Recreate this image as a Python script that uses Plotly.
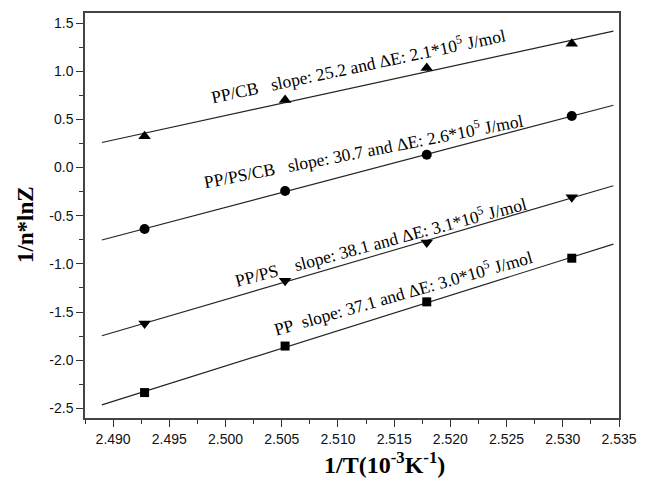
import numpy as np
import plotly.graph_objects as go

# ---- data ----
inv_T = [2.4928, 2.5053, 2.5179, 2.5308]  # 1/T (10^-3 K^-1)

series_names = ["PP/CB", "PP/PS/CB", "PP/PS", "PP"]
y_pp_cb = [0.325, 0.703, 1.035, 1.287]
y_pp_ps_cb = [-0.638, -0.244, 0.133, 0.535]
y_pp_ps = [-1.619, -1.174, -0.777, -0.307]
y_pp = [-2.336, -1.853, -1.394, -0.941]

slopes = ["25.2", "30.7", "38.1", "37.1"]
energies = ["2.1", "2.6", "3.1", "3.0"]

x_ticks = [2.490, 2.495, 2.500, 2.505, 2.510, 2.515, 2.520, 2.525, 2.530, 2.535]
y_ticks = [-2.5, -2.0, -1.5, -1.0, -0.5, 0.0, 0.5, 1.0, 1.5]

# ---- styling ----
symbols = ["triangle-up", "circle", "triangle-down", "square"]
msizes = [11, 10, 11, 9]
fit_range = (2.489, 2.5345)
# label placement (center in data coords, angle)
label_pos = [(2.5118, 1.06, -12.0), (2.5123, 0.18, -11.0),
             (2.5138, -0.76, -15.0), (2.5158, -1.29, -15.9)]
sp = "\u00a0"
label_gap = [sp * 3, sp * 3, sp * 4, sp * 2]

all_y = [y_pp_cb, y_pp_ps_cb, y_pp_ps, y_pp]

fig = go.Figure()
for name, ys, sym, ms in zip(series_names, all_y, symbols, msizes):
    k, b = np.polyfit(inv_T, ys, 1)
    xf = np.array(fit_range)
    fig.add_trace(go.Scatter(x=xf, y=k * xf + b, mode="lines",
                             line=dict(color="#222222", width=1.1),
                             showlegend=False, hoverinfo="skip"))
    fig.add_trace(go.Scatter(x=inv_T, y=ys, mode="markers", name=name,
                             marker=dict(symbol=sym, size=ms, color="black"),
                             showlegend=False))

serif = "Liberation Serif, Times New Roman, serif"
for name, s, e, (lx, ly, ang), gap in zip(series_names, slopes, energies, label_pos, label_gap):
    fig.add_annotation(
        x=lx, y=ly, xref="x", yref="y", showarrow=False,
        text=f"{name}{gap}slope: {s} and \u0394E: {e}*10<sup>5</sup> J/mol",
        textangle=ang,
        font=dict(family=serif, size=17.5, color="black"),
        xanchor="center", yanchor="middle")

# axis titles as annotations
fig.add_annotation(
    x=0.56, y=-0.11, xref="paper", yref="paper", showarrow=False,
    text="<b>1/T(10<sup>-3</sup>K<sup>-1</sup>)</b>",
    font=dict(family=serif, size=24, color="black"),
    xanchor="center", yanchor="middle")
fig.add_annotation(
    x=-0.11, y=0.477, xref="paper", yref="paper", showarrow=False,
    text="<b>1/n*lnZ</b>", textangle=-90,
    font=dict(family=serif, size=23, color="black"),
    xanchor="center", yanchor="middle")

axis_font = dict(family="Liberation Sans, Arial, sans-serif", size=14, color="#111111")
fig.update_xaxes(
    range=[2.4875, 2.535], tickvals=x_ticks, ticktext=[f"{v:.3f}" for v in x_ticks],
    ticks="outside", ticklen=7, tickwidth=1.2, tickcolor="#333333",
    minor=dict(ticks="outside", ticklen=4, tickwidth=1.2, tickcolor="#333333", dtick=0.0025),
    showline=True, linecolor="#444444", linewidth=1.5, mirror=True,
    showgrid=False, zeroline=False, tickfont=axis_font)
fig.update_yaxes(
    range=[-2.6, 1.605], tickvals=y_ticks, ticktext=[f"{v:.1f}" for v in y_ticks],
    ticks="outside", ticklen=7, tickwidth=1.2, tickcolor="#333333",
    minor=dict(ticks="outside", ticklen=4, tickwidth=1.2, tickcolor="#333333", dtick=0.25),
    showline=True, linecolor="#444444", linewidth=1.5, mirror=True,
    showgrid=False, zeroline=False, tickfont=axis_font)

fig.update_layout(
    width=648, height=480,
    margin=dict(l=85, r=22, t=11, b=62),
    paper_bgcolor="white", plot_bgcolor="white",
    showlegend=False)

fig.write_html("out.html")
